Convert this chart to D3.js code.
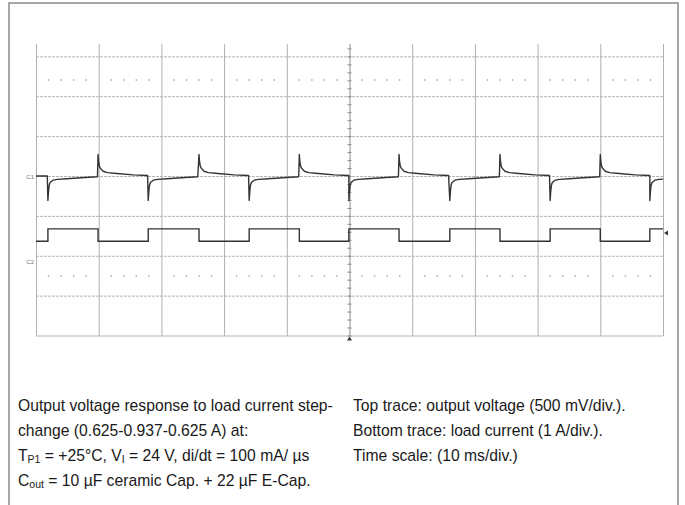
<!DOCTYPE html>
<html>
<head>
<meta charset="utf-8">
<script src="https://cdn.jsdelivr.net/npm/d3@7"></script>
<style>
  html, body { margin: 0; padding: 0; background: #fff; }
  svg { display: block; }
  text { font-family: "Liberation Sans", Arial, sans-serif; }
</style>
</head>
<body>
<svg id="chart" width="685" height="505"></svg>
<script>
// ---------------- data ----------------
// time axis: 10 ms/div, 10 divisions
const timeTicks = [0, 10, 20, 30, 40, 50, 60, 70, 80, 90, 100];
// vertical divisions (screen), lines drawn at these
const divLines = [1, 2, 3, 4, 5, 6, 7, 8];
// rows of minor dots (in divisions)
const dotRows = [1.58, 6.5];
const dotTimes = [2, 4, 6, 8];

// load current step edges (ms) and current level after each edge (A)
const edgeTimes = [1.9, 9.9, 17.9, 26.0, 34.0, 42.0, 49.9, 57.9, 66.0, 74.0, 82.0, 90.0, 97.9];
const currentLevels = [0.625, 0.937, 0.625, 0.937, 0.625, 0.937, 0.625, 0.937, 0.625, 0.937, 0.625, 0.937, 0.625, 0.937];

// output voltage deviation (mV)
const voltageStart = [[0, 6], [1.8, 6]];
// response after load step-up (ms after edge, mV)
const stepUpResponse = [[0, -300], [0.08, -200], [0.2, -110], [0.35, -75], [0.8, -46], [1.5, -36], [3, -29], [5.3, -16], [7.9, -4]];
// response after load step-down (ms after edge, mV)
const stepDownResponse = [[0, 275], [0.08, 190], [0.2, 130], [0.35, 105], [0.8, 66], [1.5, 48], [3, 37], [5.6, 21], [7.9, 12]];

const ch1Offset = 4;      // div (screen) of C1 reference
const ch2Offset = 6.25;   // div of C2 reference
const mVperDiv = 500;
const AperDiv = 1;
const triggerLevel = 0.83; // A

const captionLeft = [
  [{t: "Output voltage response to load current step-"}],
  [{t: "change (0.625-0.937-0.625 A) at:"}],
  [{t: "T"}, {t: "P1", sub: true}, {t: " = +25°C, V"}, {t: "I", sub: true}, {t: " = 24 V, di/dt = 100 mA/ µs"}],
  [{t: "C"}, {t: "out", sub: true}, {t: " = 10 µF ceramic Cap. + 22 µF E-Cap."}]
];
const captionRight = [
  "Top trace: output voltage (500 mV/div.).",
  "Bottom trace: load current (1 A/div.).",
  "Time scale: (10 ms/div.)"
];

// ---------------- drawing ----------------
const svg = d3.select("#chart");
const x = d3.scaleLinear().domain([0, 100]).range([36, 663]);
const yDiv = d3.scaleLinear().domain([0, 8]).range([17, 336]);
const gridTop = 44;
const yV = mv => yDiv(ch1Offset - mv / mVperDiv);
const yI = a => yDiv(ch2Offset - a / AperDiv);

// outer frame
svg.append("path")
  .attr("d", "M9,505 L9,3 L678,3 L678,505")
  .attr("fill", "none").attr("stroke", "#8a8a8a").attr("stroke-width", 1.5);

// horizontal grid lines
svg.append("g").selectAll("line").data(divLines).join("line")
  .attr("x1", x(0)).attr("x2", x(100))
  .attr("y1", d => yDiv(d)).attr("y2", d => yDiv(d))
  .attr("stroke", "#b4b4b4").attr("stroke-width", 1)
  .attr("stroke-dasharray", d => d === 8 ? null : "3,1");

// vertical grid via axis
const gx = svg.append("g")
  .attr("transform", `translate(0,${yDiv(8)})`)
  .call(d3.axisBottom(x).tickValues(timeTicks).tickSize(-(yDiv(8) - gridTop)).tickFormat(""));
gx.select(".domain").remove();
gx.selectAll(".tick line")
  .attr("stroke", d => d === 50 ? "#8c8c8c" : "#b0b0b0")
  .attr("stroke-width", 1);

// center line minor ticks
const minorY = d3.range(0, 8.01, 0.2).map(v => v).filter(v => yDiv(v) >= gridTop);
svg.append("g").selectAll("line").data(minorY).join("line")
  .attr("x1", x(50) - 2).attr("x2", x(50) + 2)
  .attr("y1", d => yDiv(d)).attr("y2", d => yDiv(d))
  .attr("stroke", "#8c8c8c").attr("stroke-width", 1);

// minor dots
const dots = [];
dotRows.forEach(r => timeTicks.slice(0, -1).forEach(t => dotTimes.forEach(dt => dots.push([t + dt, r]))));
svg.append("g").selectAll("rect").data(dots).join("rect")
  .attr("x", d => x(d[0]) - 0.75).attr("y", d => yDiv(d[1]) - 0.75)
  .attr("width", 1.5).attr("height", 1.5).attr("fill", "#a8a8a8");

// clip for traces
svg.append("clipPath").attr("id", "clip").append("rect")
  .attr("x", x(0)).attr("y", gridTop).attr("width", x(100) - x(0)).attr("height", yDiv(8) - gridTop);

// voltage trace
const vPts = voltageStart.slice();
edgeTimes.forEach((e, i) => {
  const tmpl = currentLevels[i + 1] > currentLevels[i] ? stepUpResponse : stepDownResponse;
  tmpl.forEach(p => vPts.push([e + p[0], p[1]]));
});
const lineV = d3.line().x(d => x(d[0])).y(d => yV(d[1]));
svg.append("path").attr("clip-path", "url(#clip)")
  .attr("d", lineV(vPts)).attr("fill", "none")
  .attr("stroke", "#333").attr("stroke-width", 1.4).attr("stroke-linejoin", "round");

// current trace
const iPts = [[0, currentLevels[0]]].concat(edgeTimes.map((e, i) => [e, currentLevels[i + 1]]));
iPts.push([100, currentLevels[currentLevels.length - 1]]);
const lineI = d3.line().curve(d3.curveStepAfter).x(d => x(d[0])).y(d => yI(d[1]));
svg.append("path").attr("clip-path", "url(#clip)")
  .attr("d", lineI(iPts)).attr("fill", "none")
  .attr("stroke", "#333").attr("stroke-width", 1.4);

// channel markers
svg.append("text").attr("x", x(0) - 2).attr("y", yV(0) + 2).attr("text-anchor", "end")
  .attr("font-size", 6).attr("fill", "#777").text("C1");
svg.append("text").attr("x", x(0) - 2).attr("y", yI(0) - 2).attr("text-anchor", "end")
  .attr("font-size", 6).attr("fill", "#777").text("C2");

// trigger markers
const ty = yI(triggerLevel);
svg.append("path")
  .attr("d", `M${x(100) + 1},${ty} l4,-2.5 l0,5 z`).attr("fill", "#333");
svg.append("path")
  .attr("d", `M${x(50)},${yDiv(8) + 0.5} l-2.5,4 l5,0 z`).attr("fill", "#333");

// captions
const lineH = 25;
const capL = svg.append("g").attr("font-size", 15.7).attr("fill", "#1a1a1a");
captionLeft.forEach((parts, i) => {
  const t = capL.append("text").attr("x", 18).attr("y", 411 + i * lineH);
  parts.forEach(p => {
    const s = t.append("tspan").text(p.t);
    if (p.sub) s.attr("font-size", 10.5).attr("dy", 1.5);
  });
  // reset baseline after subscripts
  t.selectAll("tspan").each(function(d, j, nodes) {
    const p = parts[j];
    if (!p.sub && j > 0 && parts[j - 1].sub) d3.select(this).attr("dy", -1.5);
  });
});
const capR = svg.append("g").attr("font-size", 15.7).attr("fill", "#1a1a1a");
captionRight.forEach((s, i) => {
  capR.append("text").attr("x", 353).attr("y", 411 + i * lineH).text(s);
});
</script>
</body>
</html>
